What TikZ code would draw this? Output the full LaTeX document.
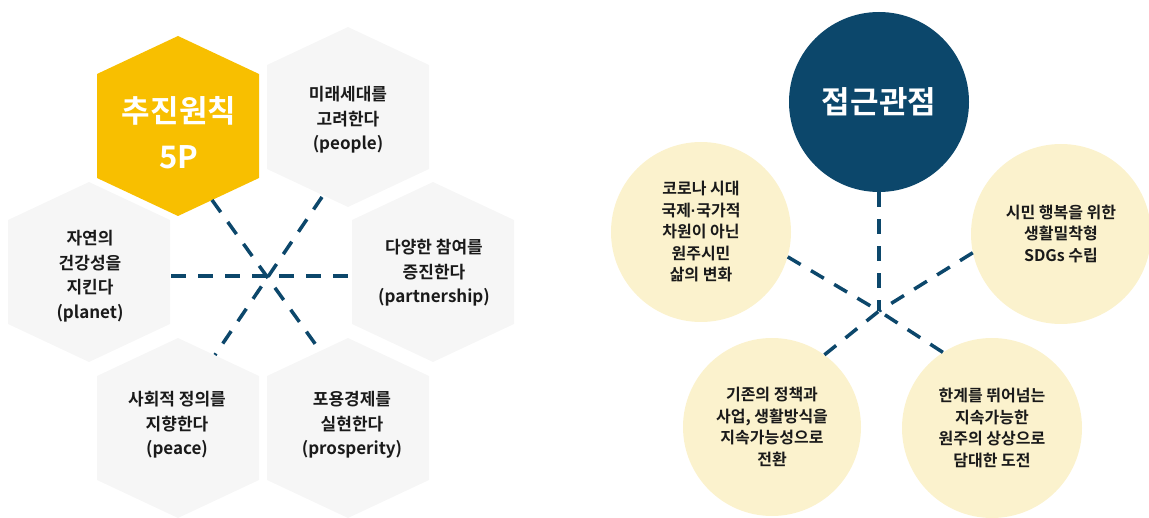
\documentclass[tikz,border=0pt]{standalone}
\usepackage{fontspec}
\newfontfamily\kr{Noto Sans CJK KR Bold}
\newfontfamily\krb{Noto Sans CJK KR Bold}
\newfontfamily\dotfont{Liberation Sans}
\definecolor{navy}{HTML}{0C476B}
\definecolor{gold}{HTML}{F8BF00}
\definecolor{cream}{HTML}{FBF2CD}
\definecolor{hexgray}{HTML}{F6F6F6}
\definecolor{ink}{HTML}{1A1A1A}
\tikzset{
  pics/hexa/.style={code={\fill[#1] (0,-90) -- (81,-52) -- (81,52) -- (0,90) -- (-81,52) -- (-81,-52) -- cycle;}},
  hextext/.style={font=\kr\fontsize{17}{24.5}\selectfont, text=ink, align=center, inner sep=0pt},
  titletext/.style={font=\kr\fontsize{31}{46}\selectfont, text=white, align=center, inner sep=0pt},
  spoke/.style={draw=navy, line width=3.5pt, dash pattern=on 15pt off 12pt},
  disc/.style={circle, fill=cream, minimum size=180pt, inner sep=0pt, font=\kr\fontsize{16}{21.5}\selectfont, text=ink, align=center},
}
\begin{document}
\begin{tikzpicture}[x=1pt,y=-1pt]
\useasboundingbox (0,0) rectangle (1149,518);
% ---------- left: 5P hexagons ----------
\pic at (178,126) {hexa=gold};
\pic at (348,117) {hexa=hexgray};
\pic at (89,272) {hexa=hexgray};
\pic at (433,272) {hexa=hexgray};
\pic at (178,428) {hexa=hexgray};
\pic at (348,428) {hexa=hexgray};

\node[titletext] (p5) at (179,133) {추진원칙\\5P};
\node[hextext] (people) at (348,120) {미래세대를\\고려한다\\(people)};
\node[hextext] (planet) at (90,276) {자연의\\건강성을\\지킨다\\(planet)};
\node[hextext] (partner) at (434,273) {다양한 참여를\\증진한다\\(partnership)};
\node[hextext] (peace) at (177,425) {사회적 정의를\\지향한다\\(peace)};
\node[hextext] (prosper) at (352,425) {포용경제를\\실현한다\\(prosperity)};

\coordinate (hA) at (171,276);
\coordinate (hB) at (351,276);
\coordinate (dA) at (212,200);
\coordinate (dB) at (321,352);
\coordinate (eA) at (322,197);
\coordinate (eB) at (215,355);
\draw[spoke] (hA) -- (hB);
\draw[spoke] (dA) -- (dB);
\draw[spoke] (eA) -- (eB);

% ---------- right: approach circles ----------
\node[circle, fill=navy, minimum size=180pt, inner sep=0pt, text=white,
      font=\krb\fontsize{31}{36}\selectfont] (ap) at (879,102) {접근관점};
\node[disc] (c1) at (701,232) {코로나 시대\\국제{\dotfont\bfseries ·}국가적\\차원이 아닌\\원주시민\\삶의 변화};
\node[disc] (c2) at (1061,234) {시민 행복을 위한\\생활밀착형\\SDGs 수립};
\node[disc, minimum size=178pt] (c3) at (772,427) {기존의 정책과\\사업, 생활방식을\\지속가능성으로\\전환};
\node[disc] (c4) at (992,428) {한계를 뛰어넘는\\지속가능한\\원주의 상상으로\\담대한 도전};

\coordinate (hub) at (879,311);
\draw[spoke] (ap.south) -- (hub);
\draw[spoke] (c1.-16) -- (hub);
\draw[spoke] (c2.-168) -- (hub);
\draw[spoke] (c3.54) -- (hub);
\draw[spoke] (c4.123) -- (hub);
\end{tikzpicture}
\end{document}
